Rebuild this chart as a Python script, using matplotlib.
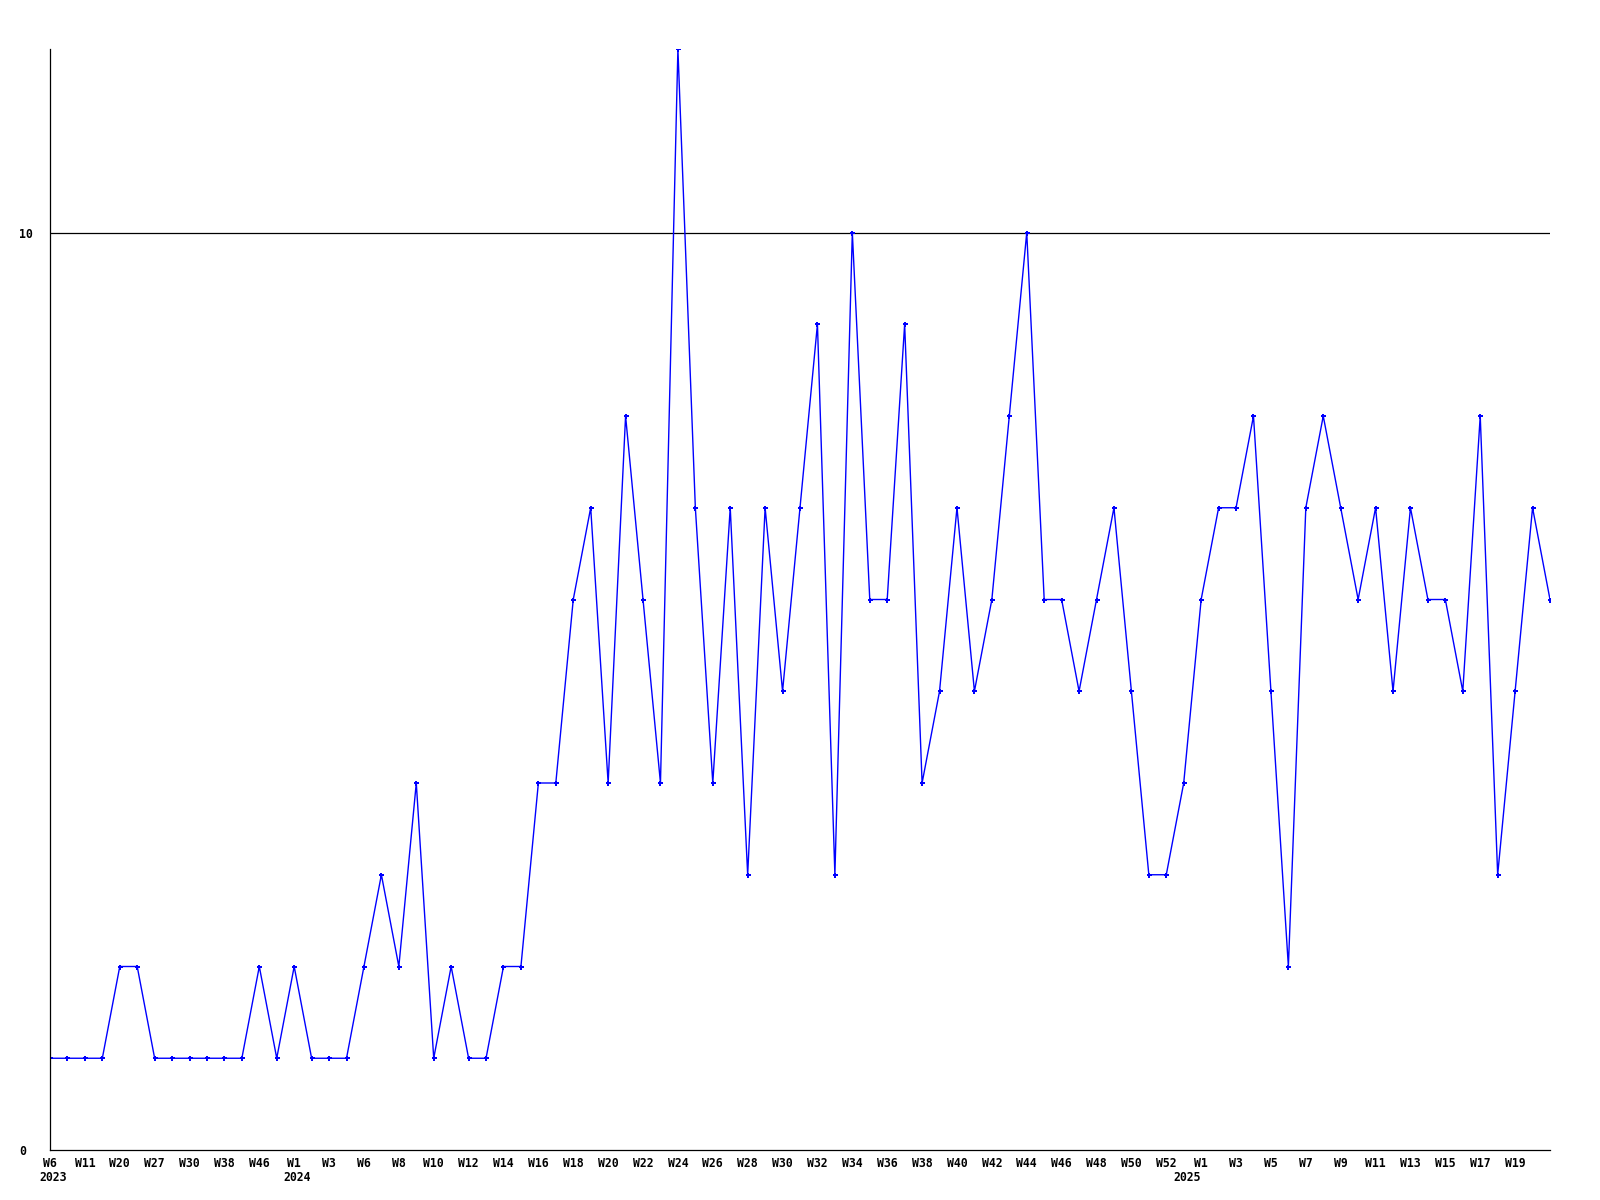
import numpy as np
import matplotlib
matplotlib.use('Agg')
import matplotlib.pyplot as plt

# weekly counts, one per point
values = [
    1, 1, 1, 1, 2, 2, 1, 1, 1, 1, 1, 1, 2, 1,
    2, 1, 1, 1, 2, 3, 2, 4, 1, 2, 1, 1, 2, 2, 4, 4, 6, 7, 4, 8, 6, 4, 12,
    7, 4, 7, 3, 7, 5, 7, 9, 3, 10, 6, 6, 9, 4, 5, 7, 5, 6, 8, 10,
    6, 6, 5, 6, 7, 5, 3, 3, 4, 6,
    7, 7, 8, 5, 2, 7, 8, 7, 6, 7, 5, 7, 6, 6, 5, 8, 3, 5, 7, 6,
]

# labels shown on every second point
week_labels = [
    'W6', 'W11', 'W20', 'W27', 'W30', 'W38', 'W46',
    'W1', 'W3', 'W6', 'W8', 'W10', 'W12', 'W14', 'W16', 'W18', 'W20', 'W22',
    'W24', 'W26', 'W28', 'W30', 'W32', 'W34', 'W36', 'W38', 'W40', 'W42',
    'W44', 'W46', 'W48', 'W50', 'W52',
    'W1', 'W3', 'W5', 'W7', 'W9', 'W11', 'W13', 'W15', 'W17', 'W19',
]
years = ['2023', '2024', '2025']
year_index = [0, 14, 66]

mono = {'family': 'DejaVu Sans Mono', 'weight': 'bold', 'size': 8.3}

fig = plt.figure(figsize=(16, 12), dpi=100)
ax = fig.add_axes([50 / 1600, 50 / 1200, 1500 / 1600, 1101 / 1200])

x = np.arange(len(values))
ax.plot(x, values, color='#0000ff', linewidth=1.0,
        marker='P', markersize=3.6, markeredgewidth=0)

ax.set_xlim(0, len(values) - 1)
ax.set_ylim(0, 12)
ax.axhline(10, color='black', linewidth=0.9, zorder=0)

for s in ['top', 'right']:
    ax.spines[s].set_visible(False)
for s in ['left', 'bottom']:
    ax.spines[s].set_linewidth(0.9)

ax.set_xticks(x[::2][:len(week_labels)])
ax.set_xticklabels(week_labels, fontdict=mono)
ax.tick_params(axis='x', length=0, pad=5)

ax.set_yticks([0, 10])
ax.set_yticklabels(['0', '10'], fontdict=mono, ha='left')
ax.tick_params(axis='y', length=0, pad=22)

for yr, idx in zip(years, year_index):
    ax.annotate(yr, xy=(idx, 0), xycoords='data',
                xytext=(-8 if idx < 60 else -20, -20), textcoords='offset points',
                ha='left', va='center', **mono)

fig.savefig('out.png', dpi=100)
